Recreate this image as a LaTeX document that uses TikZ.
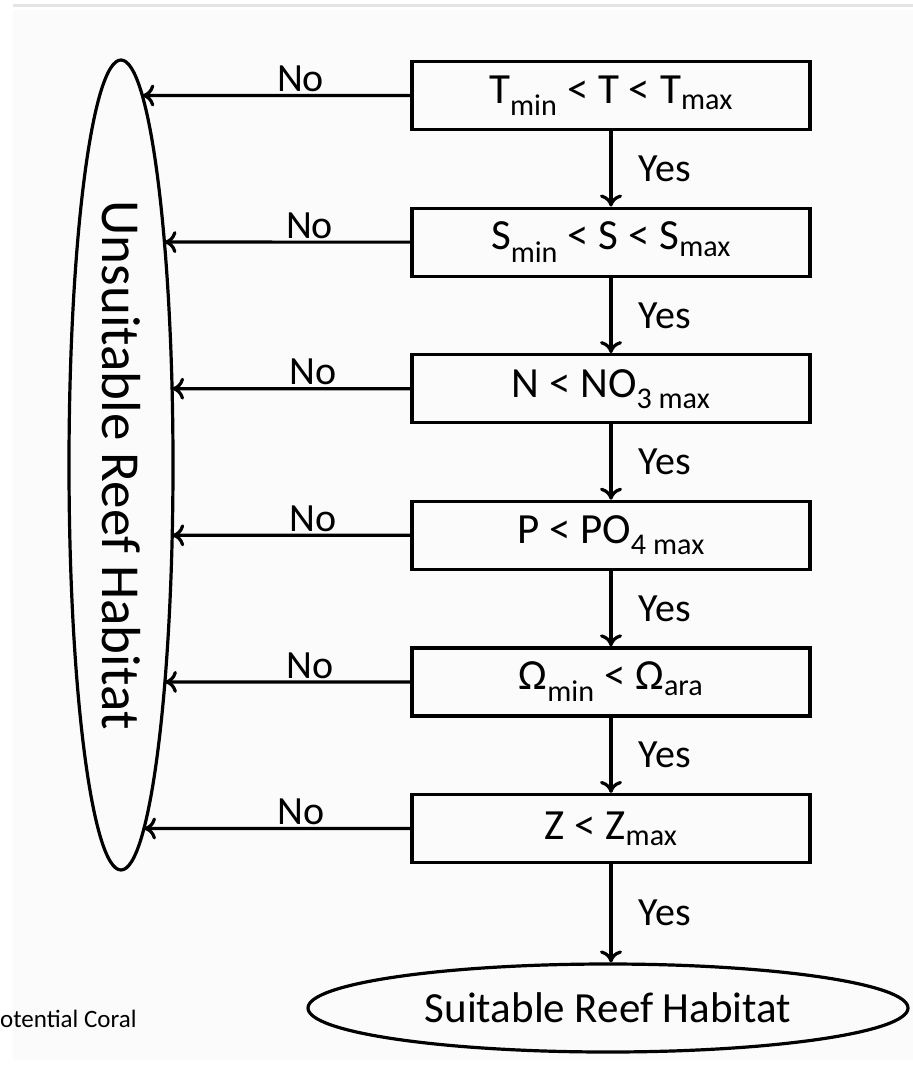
\documentclass[tikz,border=0pt]{standalone}
\usepackage{fontspec}
\setmainfont{Carlito}
\usetikzlibrary{shapes.geometric,arrows.meta,intersections}

\begin{document}
\begin{tikzpicture}[x=1pt,y=-1pt,
    testbox/.style={draw, line width=3.2pt, minimum width=398pt, minimum height=68pt, inner sep=0pt, font=\fontsize{43}{50}\selectfont},
    flow/.style={line width=3.2pt, -{To[length=12pt,width=22pt]}},
    answer/.style={font=\fontsize{40}{48}\selectfont, inner sep=2pt}]
    % Define parameters
    \def\bx{611}    % x-centre of the test boxes
    \def\by{95.5}   % y-centre of the first box
    \def\dy{146.6}  % spacing of the boxes

    % Page and background
    \useasboundingbox (0,0) rectangle (913,1072);
    \fill[gray!3] (13,10) rectangle (913,1060);
    \draw[gray!20, line width=3pt] (13,5) -- (913,5);

    % Unsuitable habitat
    \node[draw, ellipse, line width=3.2pt, minimum width=104pt, minimum height=810pt, inner sep=0pt, name path=unsuitpath] (unsuit) at (121,465) {};
    \node[rotate=-90, font=\fontsize{55}{66}\selectfont] (unsuitlabel) at (unsuit) {Unsuitable Reef Habitat};

    % Draw the tests
    \node[testbox] (tbox) at (\bx,\by) {T\textsubscript{min} < T < T\textsubscript{max}};
    \node[testbox] (sbox) at (\bx,\by+\dy) {S\textsubscript{min} < S < S\textsubscript{max}};
    \node[testbox] (nbox) at (\bx,\by+2*\dy) {N < NO\textsubscript{3 max}};
    \node[testbox] (pbox) at (\bx,\by+3*\dy) {P < PO\textsubscript{4 max}};
    \node[testbox] (obox) at (\bx,\by+4*\dy) {Ω\textsubscript{min} < Ω\textsubscript{ara}};
    \node[testbox] (zbox) at (\bx,\by+5*\dy) {Z < Z\textsubscript{max}};

    % Suitable habitat
    \node[draw, ellipse, line width=3.2pt, minimum width=600pt, minimum height=88pt, inner sep=0pt, font=\fontsize{43}{50}\selectfont] (suit) at (608,1008) {Suitable Reef Habitat};

    % Yes arrows
    \foreach \a/\b in {tbox/sbox, sbox/nbox, nbox/pbox, pbox/obox, obox/zbox, zbox/suit}
        \draw[flow] (\a.south) -- (\a.south |- \b.north) node[midway, right=24pt, answer] {Yes};

    % No arrows
    \foreach \a in {tbox, sbox, nbox, pbox, obox, zbox} {
        \path[name path=noline] (\a.west) -- (\a.west -| unsuit.center);
        \draw[flow, name intersections={of=noline and unsuitpath}] (\a.west) -- (intersection-1) node[pos=0.41, above, answer] {No};
    }

    % Cut caption
    \node[anchor=base west, inner sep=0pt, font=\fontsize{25}{30}\selectfont] (caption) at (0,1027) {otential Coral};
\end{tikzpicture}
\end{document}
